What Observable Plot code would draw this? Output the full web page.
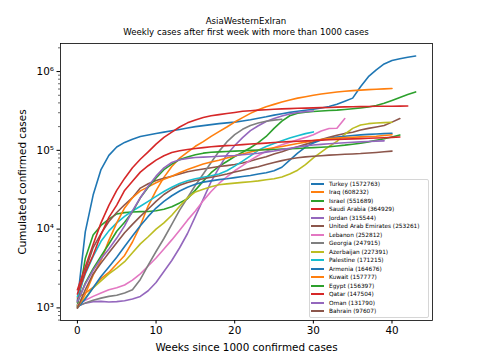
<!DOCTYPE html>
<html><head><meta charset="utf-8">
<script src="https://cdn.jsdelivr.net/npm/d3@7"></script>
<script src="https://cdn.jsdelivr.net/npm/@observablehq/plot@0.6"></script>
<style>
body{margin:0;background:#fff;font-family:"DejaVu Sans",sans-serif;}
#wrap{position:relative;width:480px;height:360px;overflow:hidden;}
#title{position:absolute;left:46px;width:400px;top:16px;text-align:center;font-size:8.6px;line-height:11px;color:#000;}
#plot{position:absolute;left:0;top:40px;}
#ylabel{position:absolute;left:22px;top:181.5px;transform:translate(-50%,-50%) rotate(-90deg);font-size:10.4px;white-space:nowrap;color:#000;}
#legend{position:absolute;left:309px;top:179px;width:120px;height:139px;border:1px solid #d6d6d6;border-radius:2px;background:rgba(255,255,255,0.8);box-sizing:border-box;}
.item{position:absolute;left:0;height:8px;font-size:5.8px;line-height:8px;white-space:nowrap;color:#000;}
.sw{position:absolute;left:1px;top:3px;width:13px;height:2px;}
.lb{position:absolute;left:19px;top:0;}
</style></head>
<body>
<div id="wrap">
  <div id="title">AsiaWesternExIran<br>Weekly cases after first week with more than 1000 cases</div>
  <div id="plot"></div>
  <div id="ylabel">Cumulated confirmed cases</div>
  <div id="legend"></div>
</div>
<script>
const countries = ["Turkey","Iraq","Israel","Saudi Arabia","Jordan","United Arab Emirates","Lebanon","Georgia","Azerbaijan","Palestine","Armenia","Kuwait","Egypt","Qatar","Oman","Bahrain"];
const totals = [1572763,608232,551689,364929,315544,253261,252812,247915,227391,171215,164676,157777,156397,147504,131790,97607];
const colors = ["#1f77b4","#ff7f0e","#2ca02c","#d62728","#9467bd","#8c564b","#e377c2","#7f7f7f","#bcbd22","#17becf","#1f77b4","#ff7f0e","#2ca02c","#d62728","#9467bd","#8c564b"];

const turkey = [1236,9217,27069,56956,86306,110130,126045,138657,149435,156827,163942,170132,177000,184000,192000,200000,206000,212000,218000,223000,228000,236000,245000,256000,267000,280000,292000,303000,313000,323000,333000,345000,360000,385000,420000,460000,640000,860000,1050000,1250000,1380000,1450000,1520000,1572763];
const iraq = [1352,1539,1820,2346,2818,3611,4632,6868,11098,19754,30868,45402,62275,79735,94693,112585,129151,150115,172583,197502,228442,260370,294478,326476,358290,383251,410674,436144,459908,479502,499924,519967,535321,548821,561523,571998,581000,590000,597000,603000,608232];
const israel = [1071,4247,8430,11145,13362,15589,16193,16506,16659,16757,17071,17863,19237,21512,24338,31282,40632,52003,62706,72218,83465,94710,108000,125000,150000,190000,235000,275000,296000,305000,311000,316000,320000,324000,330000,337000,345000,355000,370000,395000,430000,470000,510000,551689];
const saudi = [1700,3300,6400,12000,20000,31000,44000,60000,77000,95748,119942,145991,170639,197608,223327,243238,260394,274219,284226,293037,302686,313911,318319,323720,328144,332329,335578,338539,341495,343774,346047,348037,350316,353255,356095,357657,359115,360690,361903,362741,363500,364200,364929];
const jordan = [1050,1150,1200,1210,1190,1200,1230,1300,1400,1650,2100,2900,4000,5800,8800,14500,24000,40000,60000,88000,115000,145000,178000,205000,232000,253000,272000,290000,302000,310000,315544];
const uae = [1200,2990,5825,8756,12481,16240,20386,25063,33170,37642,41499,44145,46973,49930,53577,55848,57988,60223,62300,64000,66000,69000,73000,78000,83000,90000,96000,104000,111000,119000,128000,137000,146000,155000,164000,170000,181000,190000,198000,207000,228000,253261];
const lebanon = [1100,1250,1400,1550,1700,1800,1950,2250,2700,3400,4300,5600,7300,9700,13000,17000,23000,30000,38000,46000,55000,64000,75000,86000,97000,108000,118000,127000,136000,146000,158000,176000,189000,190500,252812];
const georgia = [1050,1150,1250,1330,1400,1450,1550,1700,2300,3500,5200,7600,11500,17400,25000,36000,50000,70000,97000,128000,158000,185000,207000,222000,234000,242000,247915];
const azerbaijan = [1058,1340,1800,2200,2700,3200,3855,5000,6500,8000,10000,12000,15000,19500,25000,29633,32000,34500,36500,37500,38400,39200,40000,41000,42300,43500,46000,50000,56000,66000,80000,95000,112000,130000,160000,190000,210000,218000,222000,225000,227391];
const palestine = [1400,2700,4500,7000,9500,12000,14500,17000,19500,22500,26000,30000,34000,38000,41000,43500,45500,47500,50000,55000,63000,73000,85000,100000,112000,122000,132000,143000,153000,163000,171215];
const armenia = [1000,1300,1800,2500,3300,4400,6000,8200,11000,14500,18500,22500,26500,30500,34000,37000,39500,41000,42500,43500,45000,46500,48000,50000,52000,55000,61000,75000,92000,110000,124000,135000,142000,147000,151000,154000,157000,159500,161500,163000,164676];
const kuwait = [1000,1500,2600,4000,7200,12000,18600,25000,30600,34400,38700,43000,47000,52000,57000,62000,67000,71000,75000,80000,85000,90000,95000,100000,104000,108000,112000,117000,122000,127000,133000,137000,141000,143000,145000,146500,148000,149500,151000,154000,157777];
const egypt = [1173,2065,3144,4534,6465,9400,12229,16513,24985,34079,44598,56809,66754,76222,82070,87775,92062,94483,95492,96590,97825,98939,99863,100856,101772,102602,103575,104516,105297,106877,108122,109654,111284,113640,116303,119720,123153,127972,134000,140000,148000,156397];
const qatar = [1500,2800,4663,8525,14096,20201,30972,40481,52907,63741,75071,85462,93663,98653,102630,105477,108244,111107,113244,114809,116224,118274,120206,121740,123604,125478,127332,128992,130462,131895,133325,134685,136174,137464,138749,139869,140911,142213,143423,144648,146000,147504];
const oman = [1200,2000,3000,4200,5600,7700,11000,17000,25000,35000,47000,60000,70000,76000,79000,81000,82000,83000,84000,85000,86000,88000,90000,92000,95000,98000,102000,106000,110000,114000,117000,119000,121000,123000,125000,126500,128000,129500,130800,131790];
const bahrain = [1000,1700,2700,3700,5000,6700,9000,11500,14500,18000,22500,27500,32000,36000,39000,41500,43500,45500,47500,50000,53000,56000,59000,62000,66000,70000,74000,77500,80500,82500,84000,85500,87000,88000,89000,90000,91000,92500,94000,95800,97607];

const series = [turkey,iraq,israel,saudi,jordan,uae,lebanon,georgia,azerbaijan,palestine,armenia,kuwait,egypt,qatar,oman,bahrain];
const xTicks = [0,10,20,30,40];
const yTicks = [1e3,1e4,1e5,1e6];
const yTickLabels = ["10³","10⁴","10⁵","10⁶"];

const rows = [];
series.forEach((vals, i) => vals.forEach((v, w) => rows.push({country: countries[i], color: colors[i], week: w, value: v})));

const yDomain = [692, 2.27e6];
const minor = [];
for (let e = 2; e <= 6; e++) for (let m = 2; m <= 9; m++) { const v = m * 10 ** e; if (v >= yDomain[0] && v <= yDomain[1]) minor.push(v); }

const chart = Plot.plot({
  width: 480, height: 320,
  marginLeft: 60, marginRight: 48, marginTop: 3, marginBottom: 40,
  style: {fontFamily: "DejaVu Sans, sans-serif", fontSize: "10.4px", color: "#000", background: "transparent"},
  x: {domain: [-2.15, 45.15]},
  y: {type: "log", domain: yDomain},
  color: {type: "identity"},
  marks: [
    Plot.line(rows, {x: "week", y: "value", z: "country", stroke: "color", strokeWidth: 1.6, curve: "linear"}),
    Plot.frame({stroke: "#000", strokeWidth: 0.8}),
    Plot.axisX({ticks: xTicks, tickSize: 3.5, tickPadding: 3, tickFormat: d => String(d), label: null, fontSize: 10.4}),
    Plot.axisY({ticks: yTicks, tickSize: 3.5, tickPadding: 3, tickFormat: d => yTickLabels[yTicks.indexOf(d)], label: null, fontSize: 10.4}),
    Plot.axisY({ticks: minor, tickSize: 2, tickFormat: () => "", label: null, strokeWidth: 0.6}),
    Plot.text(["Weeks since 1000 confirmed cases"], {frameAnchor: "bottom", dy: 27, fontSize: 10.4, textAnchor: "middle", lineAnchor: "middle"})
  ]
});
document.getElementById("plot").appendChild(chart);

const legend = document.getElementById("legend");
countries.forEach((c, i) => {
  const item = document.createElement("div");
  item.className = "item";
  item.style.top = Math.round(i * 8.47) + "px";
  item.style.width = "118px";
  const sw = document.createElement("div");
  sw.className = "sw";
  sw.style.background = colors[i];
  const lb = document.createElement("div");
  lb.className = "lb";
  lb.textContent = `${c} (${totals[i]})`;
  item.appendChild(sw); item.appendChild(lb);
  legend.appendChild(item);
});
</script>
</body></html>
